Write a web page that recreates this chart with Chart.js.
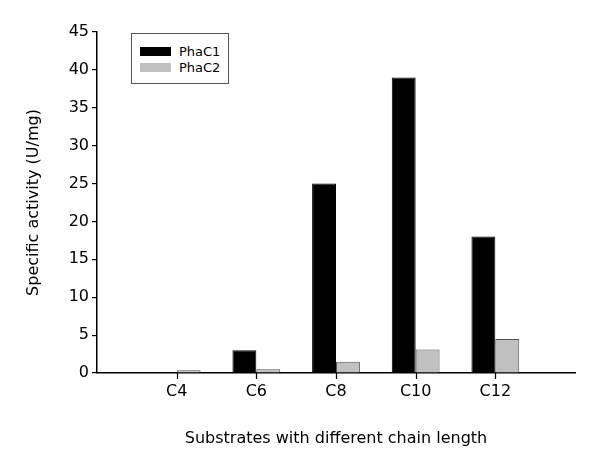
<!DOCTYPE html>
<html>
<head>
<meta charset="utf-8">
<script src="https://cdn.jsdelivr.net/npm/chart.js@4"></script>
<style>
  body { margin: 0; background: #fff; }
  #wrap { position: relative; width: 600px; height: 470px; }
  #legend {
    position: absolute; left: 131px; top: 33px; width: 96px; height: 49px;
    border: 1px solid #555; background: #fff;
    font-family: "DejaVu Sans", sans-serif; font-size: 13px; color: #000;
  }
  .item { position: absolute; left: 8px; height: 14px; line-height: 14px; }
  .sw { position: absolute; left: 0; top: 2px; width: 31px; height: 9px; }
  .item span { position: absolute; left: 39px; white-space: nowrap; }
</style>
</head>
<body>
<div id="wrap">
  <canvas id="chart" width="600" height="470"></canvas>
  <div id="legend"></div>
</div>
<script>
// substrates (blank slots at each end keep the spacing of the original axis)
const categories = ['', 'C4', 'C6', 'C8', 'C10', 'C12', ''];
const phaC1 = [null, 0, 3, 25, 39, 18, null];
const phaC2 = [null, 0.35, 0.5, 1.5, 3.1, 4.5, null];
const yTicks = [0, 5, 10, 15, 20, 25, 30, 35, 40, 45];

const seriesNames = ['PhaC1', 'PhaC2'];
const seriesColors = ['#000000', '#c0c0c0'];
const seriesBorders = ['#000000', '#555555'];

function axisFont() {
    return { family: '"DejaVu Sans", sans-serif', size: 16 };
}

// short tick marks under the x axis, only at the named substrates
const xTickMarks = {
    id: 'xTickMarks',
    afterDraw(chart) {
        const x = chart.scales.x;
        const c = chart.ctx;
        c.save();
        c.strokeStyle = '#000';
        c.lineWidth = 1.2;
        categories.forEach((name, k) => {
            if (!name) return;
            const px = Math.round(x.getPixelForValue(k)) + 0.5;
            c.beginPath();
            c.moveTo(px, x.top);
            c.lineTo(px, x.top + 6);
            c.stroke();
        });
        c.restore();
    }
};

function renderActivityChart() {
    const ctx = document.getElementById('chart').getContext('2d');
    new Chart(ctx, {
        type: 'bar',
        data: {
            datasets: [phaC1, phaC2].map((d, i) => ({
                label: seriesNames[i],
                data: d.map((v, k) => ({ x: k, y: v })),
                backgroundColor: seriesColors[i],
                borderColor: seriesBorders[i],
                borderWidth: 1,
                barPercentage: 1,
                categoryPercentage: 0.6
            }))
        },
        plugins: [xTickMarks],
        options: {
            responsive: false,
            animation: false,
            layout: { padding: { top: 32, right: 25, bottom: 18, left: 20 } },
            plugins: { legend: { display: false }, tooltip: { enabled: false } },
            scales: {
                x: {
                    type: 'linear',
                    offset: false,
                    min: 0,
                    max: categories.length - 1,
                    afterBuildTicks: s => { s.ticks = categories.map((c, k) => ({ value: k })); },
                    grid: { offset: false, drawOnChartArea: false, drawTicks: false },
                    border: { color: '#000', width: 1.5 },
                    ticks: {
                        color: '#000', font: axisFont(), padding: 9, maxRotation: 0, autoSkip: false,
                        callback: v => categories[v]
                    },
                    title: {
                        display: true,
                        text: 'Substrates with different chain length',
                        color: '#000',
                        font: axisFont()
                    },
                    afterFit: s => { s.height = 79; }
                },
                y: {
                    min: 0,
                    max: 45,
                    afterBuildTicks: s => { s.ticks = yTicks.map(v => ({ value: v })); },
                    grid: { drawOnChartArea: false, tickLength: 5, color: '#000', lineWidth: 1.2 },
                    border: { color: '#000', width: 1.5 },
                    ticks: { color: '#000', font: axisFont(), padding: 3 },
                    title: {
                        display: true,
                        text: 'Specific activity (U/mg)',
                        color: '#000',
                        font: axisFont(),
                        padding: { top: 4, bottom: 4 }
                    },
                    afterFit: s => { s.width = 77; }
                }
            }
        }
    });
}

function renderLegend() {
    const box = document.getElementById('legend');
    seriesNames.forEach((name, i) => {
        const item = document.createElement('div');
        item.className = 'item';
        item.style.top = (11 + i * 16) + 'px';
        item.innerHTML = '<div class="sw" style="background:' + seriesColors[i] + '"></div><span>' + name + '</span>';
        box.appendChild(item);
    });
}

renderActivityChart();
renderLegend();
</script>
</body>
</html>
